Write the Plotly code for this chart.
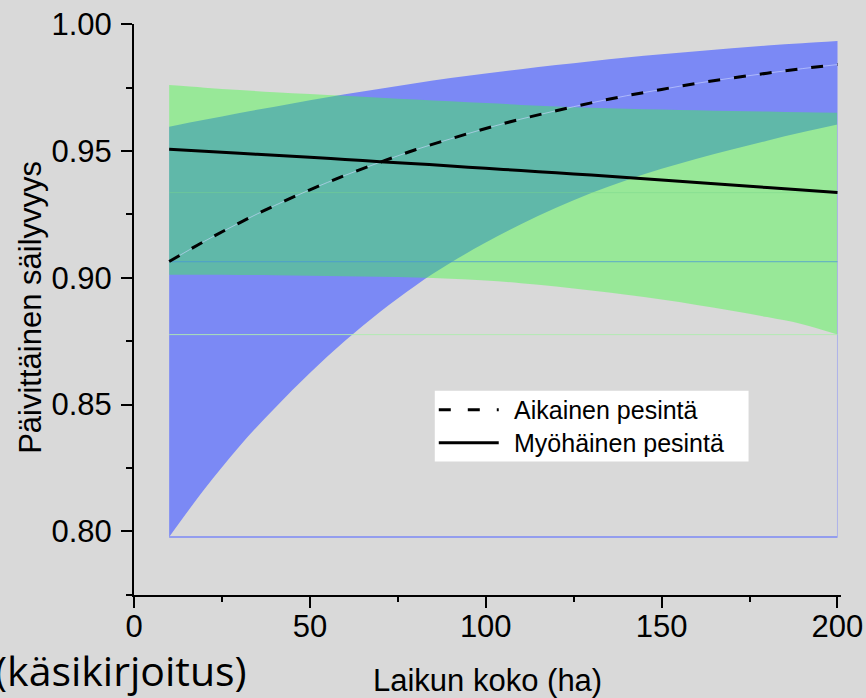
import plotly.graph_objects as go

# ---- data ----
area_ha = [10, 20, 30, 40, 50, 60, 70, 80, 90, 100, 110, 120, 130, 140, 150, 160, 170, 180, 190, 200]

early_lower = [0.7978, 0.8166, 0.8336, 0.8486, 0.8625, 0.8752, 0.8866, 0.8969, 0.9059, 0.9139,
               0.9211, 0.9276, 0.9334, 0.9385, 0.9430, 0.9470, 0.9506, 0.9541, 0.9574, 0.9605]
early_upper = [0.9596, 0.9623, 0.9650, 0.9675, 0.9700, 0.9724, 0.9746, 0.9767, 0.9788, 0.9806,
               0.9823, 0.9839, 0.9854, 0.9869, 0.9882, 0.9894, 0.9905, 0.9916, 0.9925, 0.9934]
early_mean = [0.9064, 0.9144, 0.9217, 0.9285, 0.9347, 0.9404, 0.9456, 0.9505, 0.9548, 0.9589,
              0.9626, 0.9659, 0.9690, 0.9718, 0.9743, 0.9767, 0.9788, 0.9807, 0.9825, 0.9841]

late_lower = [0.9012, 0.9012, 0.9011, 0.9010, 0.9008, 0.9006, 0.9004, 0.9001, 0.8996, 0.8989,
              0.8979, 0.8966, 0.8950, 0.8933, 0.8914, 0.8893, 0.8870, 0.8845, 0.8817, 0.8776]
late_upper = [0.9760, 0.9750, 0.9741, 0.9732, 0.9725, 0.9718, 0.9710, 0.9703, 0.9696, 0.9689,
              0.9682, 0.9676, 0.9671, 0.9667, 0.9664, 0.9661, 0.9658, 0.9656, 0.9653, 0.9651]
late_mean = [0.9507, 0.9499, 0.9491, 0.9483, 0.9475, 0.9467, 0.9458, 0.9450, 0.9441, 0.9432,
             0.9423, 0.9414, 0.9405, 0.9396, 0.9386, 0.9376, 0.9366, 0.9356, 0.9346, 0.9336]

series_names = ["Aikainen pesintä", "Myöhäinen pesintä"]
x_ticks = [0, 50, 100, 150, 200]
y_ticks = [0.80, 0.85, 0.90, 0.95, 1.00]
x_title = "Laikun koko (ha)"
y_title = "Päivittäinen säilyvyys"
note_text = "(käsikirjoitus)"

BG = "#D9D9D9"
BLUE = "#7B89F5"
GREEN = "rgba(56,254,56,0.404)"
FONT = "Liberation Sans, Arial, sans-serif"

fig = go.Figure()

# early band (blue, opaque)
fig.add_trace(go.Scatter(x=area_ha, y=early_lower, mode="lines", line=dict(width=0, shape="spline"),
                         showlegend=False, hoverinfo="skip"))
fig.add_trace(go.Scatter(x=area_ha, y=early_upper, mode="lines", line=dict(width=0, shape="spline"),
                         fill="tonexty", fillcolor=BLUE, showlegend=False, hoverinfo="skip"))
# late band (green, translucent)
fig.add_trace(go.Scatter(x=area_ha, y=late_lower, mode="lines", line=dict(width=0, shape="spline"),
                         showlegend=False, hoverinfo="skip"))
fig.add_trace(go.Scatter(x=area_ha, y=late_upper, mode="lines", line=dict(width=0, shape="spline"),
                         fill="tonexty", fillcolor=GREEN, showlegend=False, hoverinfo="skip"))

# faint baseline artefacts of the original plot
x_ends = [area_ha[0], area_ha[-1]]
fig.add_trace(go.Scatter(x=x_ends, y=[early_lower[0]] * 2, mode="lines",
                         line=dict(color=BLUE, width=1.5), showlegend=False, hoverinfo="skip"))
fig.add_trace(go.Scatter(x=[area_ha[-1]] * 2, y=[early_lower[0], early_upper[-1]], mode="lines",
                         line=dict(color="rgba(170,175,235,0.9)", width=1), showlegend=False, hoverinfo="skip"))
fig.add_trace(go.Scatter(x=x_ends, y=[early_mean[0]] * 2, mode="lines",
                         line=dict(color="rgba(70,150,215,0.6)", width=1.2), showlegend=False, hoverinfo="skip"))
fig.add_trace(go.Scatter(x=x_ends, y=[late_mean[-1]] * 2, mode="lines",
                         line=dict(color="rgba(120,215,140,0.45)", width=1), showlegend=False, hoverinfo="skip"))
fig.add_trace(go.Scatter(x=x_ends, y=[late_lower[-1]] * 2, mode="lines",
                         line=dict(color="rgba(175,235,175,0.9)", width=1), showlegend=False, hoverinfo="skip"))

# mean lines
fig.add_trace(go.Scatter(x=area_ha, y=early_mean, mode="lines",
                         line=dict(color="rgba(205,215,255,0.6)", width=1, shape="spline"),
                         showlegend=False, hoverinfo="skip"))
fig.add_trace(go.Scatter(x=area_ha, y=early_mean, mode="lines", name=series_names[0],
                         line=dict(color="black", width=3, dash="12px,14px", shape="spline"),
                         showlegend=False))
fig.add_trace(go.Scatter(x=area_ha, y=late_mean, mode="lines", name=series_names[1],
                         line=dict(color="black", width=3, shape="spline"), showlegend=False))

# ---- custom legend box (paper coords) ----
W, H = 866, 698
L, R, T, B = 134, 24.5, 24, 102.5
PW, PH = W - L - R, H - T - B


def px(xp):
    return (xp - L) / PW


def py(yp):
    return (H - B - yp) / PH


shapes = [
    dict(type="rect", xref="paper", yref="paper", x0=px(435), x1=px(749), y0=py(462), y1=py(391),
         fillcolor="white", line=dict(width=0), layer="above"),
    dict(type="line", xref="paper", yref="paper", x0=px(439), x1=px(499), y0=py(410), y1=py(410),
         line=dict(color="black", width=3, dash="12px,17px"), layer="above"),
    dict(type="line", xref="paper", yref="paper", x0=px(439), x1=px(499), y0=py(443), y1=py(443),
         line=dict(color="black", width=3), layer="above"),
]

annotations = [
    dict(text=series_names[0], xref="paper", yref="paper", x=px(512), y=py(410), xanchor="left",
         yanchor="middle", showarrow=False, font=dict(family=FONT, size=25, color="black")),
    dict(text=series_names[1], xref="paper", yref="paper", x=px(512), y=py(443), xanchor="left",
         yanchor="middle", showarrow=False, font=dict(family=FONT, size=25, color="black")),
    dict(text=y_title, xref="paper", yref="paper", x=px(31), y=py(308), xanchor="center",
         yanchor="middle", textangle=-90, showarrow=False, font=dict(family=FONT, size=31, color="black")),
    dict(text=x_title, xref="paper", yref="paper", x=px(488), y=py(681), xanchor="center",
         yanchor="middle", showarrow=False, font=dict(family=FONT, size=31, color="black")),
    dict(text=note_text, xref="paper", yref="paper", x=px(249), y=py(671), xanchor="right",
         yanchor="middle", showarrow=False, font=dict(family="Open Sans, sans-serif", size=41, color="black")),
]

fig.update_layout(
    width=W, height=H, autosize=False,
    margin=dict(l=L, r=R, t=T, b=B, pad=0, autoexpand=False),
    paper_bgcolor=BG, plot_bgcolor=BG,
    showlegend=False,
    shapes=shapes, annotations=annotations,
    font=dict(family=FONT, size=31, color="black"),
)

fig.update_xaxes(
    automargin=False,
    range=[0, 201], tickmode="array", tickvals=x_ticks, ticktext=[str(v) for v in x_ticks],
    showgrid=False, zeroline=False, showline=True, linecolor="black", linewidth=2,
    ticks="outside", ticklen=11, tickwidth=2, tickcolor="black", ticklabelstandoff=-8,
    tickfont=dict(family=FONT, size=31, color="black"),
    minor=dict(tickvals=[25, 75, 125, 175], ticks="outside", ticklen=5, tickwidth=2, tickcolor="black"),
)
fig.update_yaxes(
    automargin=False,
    range=[0.7749, 1.0001], tickmode="array", tickvals=y_ticks, ticktext=[f"{v:.2f}" for v in y_ticks],
    showgrid=False, zeroline=False, showline=True, linecolor="black", linewidth=2,
    ticks="outside", ticklen=11, tickwidth=2, tickcolor="black", ticklabelstandoff=3,
    tickfont=dict(family=FONT, size=31, color="black"),
    minor=dict(tickvals=[0.775, 0.825, 0.875, 0.925, 0.975], ticks="outside", ticklen=6, tickwidth=2,
               tickcolor="black"),
)

fig.write_html(
    "out.html",
    config={"displayModeBar": False},
    post_script="document.body.style.margin='0';document.body.style.overflow='hidden';"
                "document.body.style.background='#D9D9D9';",
)
